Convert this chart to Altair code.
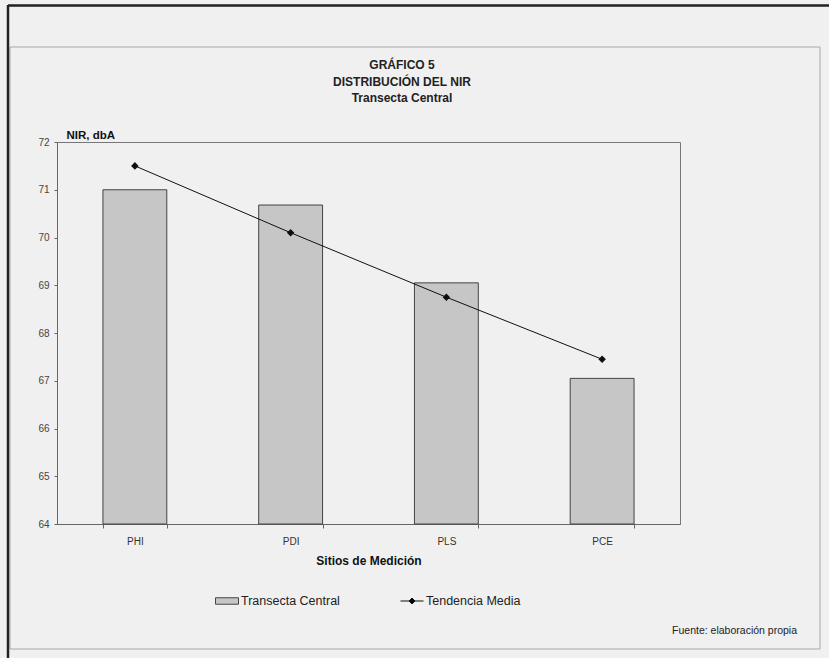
import altair as alt
import pandas as pd

# ---- data ----
sites = ["PHI", "PDI", "PLS", "PCE"]
nir_values = [71.0, 70.68, 69.05, 67.05]
trend_values = [71.5, 70.1, 68.75, 67.45]
bar_series = ["Transecta Central"] * 4
line_series = ["Tendencia Media"] * 4
title_lines = ["GRÁFICO 5", "DISTRIBUCIÓN DEL NIR", "Transecta Central"]
y_ticks = [64, 65, 66, 67, 68, 69, 70, 71, 72]
y_base = 64
source_note = "Fuente: elaboración propia"

df = pd.DataFrame({
    "site": sites,
    "nir": nir_values,
    "trend": trend_values,
    "bar_series": bar_series,
    "line_series": line_series,
})

NARROW = "Liberation Sans Narrow, Arial Narrow, Liberation Sans, sans-serif"
SANS = "Liberation Sans, Arial, sans-serif"
BG = "#f0f0f0"

W, H = 623, 382
PAD_L, PAD_T = 57, 142

x_enc = alt.X(
    "site:N",
    sort=sites,
    scale=alt.Scale(paddingInner=0.59, paddingOuter=0.295),
    axis=alt.Axis(
        title="Sitios de Medición",
        titleFont=SANS, titleFontSize=12, titleFontWeight="bold",
        titleColor="#111", titlePadding=9,
        labelFont=NARROW, labelFontSize=10, labelColor="#333", labelAngle=0,
        labelPadding=8,
        tickBand="extent", tickSize=4, tickColor="#666",
        domainColor="#666", grid=False,
    ),
)

y_scale = alt.Scale(domain=[64, 72], nice=False, zero=False)

bars = alt.Chart(df).mark_bar(stroke="#444", strokeWidth=1).encode(
    x=x_enc,
    y=alt.Y(
        "nir:Q",
        scale=y_scale,
        axis=alt.Axis(
            values=y_ticks, format="d", grid=False,
            title="NIR, dbA", titleAngle=0, titleAlign="left", titleBaseline="middle",
            titleX=9, titleY=-7, titleFont=SANS, titleFontSize=11.5,
            titleFontWeight="bold", titleColor="#111",
            labelFont=NARROW, labelFontSize=10, labelColor="#444", labelPadding=5,
            tickSize=3, tickColor="#666", domainColor="#666",
        ),
    ),
    y2=alt.datum(y_base),
    fill=alt.Fill(
        "bar_series:N",
        scale=alt.Scale(domain=["Transecta Central"], range=["#c6c6c6"]),
        legend=alt.Legend(
            title=None, orient="none", legendX=158, legendY=447,
            symbolType="M-1,-0.28H1V0.28H-1Z", symbolSize=529,
            symbolStrokeColor="#444", symbolStrokeWidth=1,
            labelFont=SANS, labelFontSize=12.5, labelColor="#222", labelOffset=2,
        ),
    ),
)

line = alt.Chart(df).mark_line(
    strokeWidth=1,
    point=alt.OverlayMarkDef(shape="diamond", size=22, filled=True, color="black"),
).encode(
    x=alt.X("site:N", sort=sites),
    y=alt.Y("trend:Q", scale=y_scale),
    stroke=alt.Stroke(
        "line_series:N",
        scale=alt.Scale(domain=["Tendencia Media"], range=["#111"]),
        legend=alt.Legend(
            title=None, orient="none", legendX=343, legendY=447,
            symbolType="M-1,0H1M0,-0.26L0.26,0L0,0.26L-0.26,0Z", symbolSize=529,
            symbolFillColor="#111", symbolStrokeWidth=1,
            labelFont=SANS, labelFontSize=12.5, labelColor="#222", labelOffset=2,
        ),
    ),
)

def title_line(text, y):
    return alt.Chart(pd.DataFrame({"t": [text]})).mark_text(
        font=SANS, fontSize=12, fontWeight="bold", color="#222", baseline="middle"
    ).encode(text="t:N", x=alt.value(345), y=alt.value(y))

t0 = title_line(title_lines[0], -77)
t1 = title_line(title_lines[1], -60)
t2 = title_line(title_lines[2], -44)

note = alt.Chart(pd.DataFrame({"t": [source_note]})).mark_text(
    font=NARROW, fontSize=10.5, color="#222", align="right", baseline="middle"
).encode(text="t:N", x=alt.value(740), y=alt.value(489))

# decorative frames (scan border and chart-area border)
inner_frame = alt.Chart(pd.DataFrame({"a": [0]})).mark_rect(
    fill=None, stroke="#a8a8a8", strokeWidth=1
).encode(x=alt.value(-47), x2=alt.value(763), y=alt.value(-95), y2=alt.value(507))

top_edge = alt.Chart(pd.DataFrame({"a": [0]})).mark_rule(
    color="#222", strokeWidth=2.5
).encode(x=alt.value(-49), x2=alt.value(780), y=alt.value(-136.5))
left_edge = alt.Chart(pd.DataFrame({"a": [0]})).mark_rule(
    color="#222", strokeWidth=2.5
).encode(x=alt.value(-49), y=alt.value(-137), y2=alt.value(520))

chart = alt.layer(
    inner_frame, bars, line, t0, t1, t2, note, top_edge, left_edge
).resolve_scale(
    fill="independent", stroke="independent"
).properties(
    width=W, height=H,
    autosize=alt.AutoSizeParams(type="none"),
    padding={"left": PAD_L, "top": PAD_T, "right": 829 - PAD_L - W, "bottom": 658 - PAD_T - H},
    background=BG,
).configure_view(
    stroke="#777", strokeWidth=1, fill=BG
)

chart.save("out.html", embed_options={"renderer": "svg", "actions": False})
